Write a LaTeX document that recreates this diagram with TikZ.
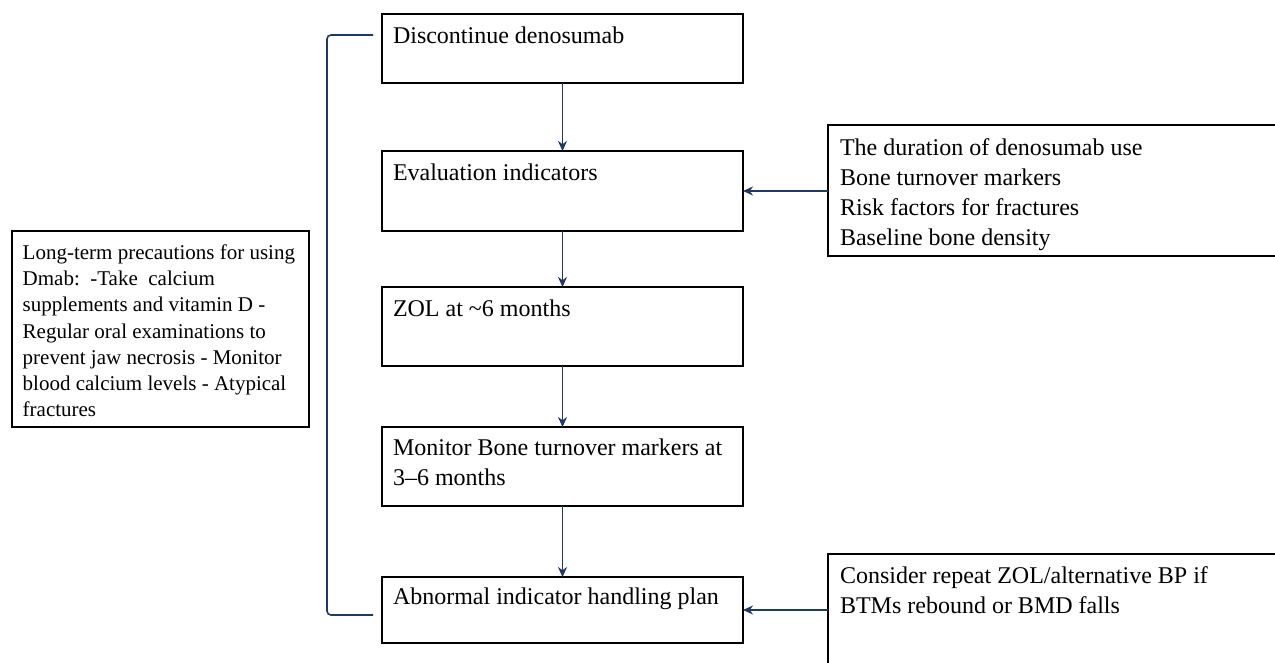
\documentclass[tikz,border=0pt]{standalone}
\usepackage{fontspec}
\setmainfont{Liberation Serif}
\usetikzlibrary{arrows.meta}
\definecolor{navy}{HTML}{1F3864}
\begin{document}
\begin{tikzpicture}[x=1pt,y=-1pt,
  box/.style={draw=black,line width=1.8pt,rectangle,inner sep=0pt,outer sep=0pt},
  txt/.style={anchor=north west,inner sep=0pt,outer sep=0pt,align=left,font=\fontsize{24}{30}\selectfont},
  smalltxt/.style={anchor=north west,inner sep=0pt,outer sep=0pt,align=left,font=\fontsize{21}{26.2}\selectfont},
  arr/.style={draw=navy,line width=1.5pt,-{Stealth[length=10pt,width=9pt]}},
  brk/.style={draw=navy,line width=1.6pt,rounded corners=4pt}]
\useasboundingbox (0,0) rectangle (1275,662);
\clip (0,0) rectangle (1275,662);
\fill[white] (0,0) rectangle (1275,662);
% main column
\node[box,minimum width=361pt,minimum height=69pt] (b1) at (562.5,48.5) {};
\node[box,minimum width=361pt,minimum height=80pt] (b2) at (562.5,191) {};
\node[box,minimum width=361pt,minimum height=79pt] (b3) at (562.5,326.5) {};
\node[box,minimum width=361pt,minimum height=79pt] (b4) at (562.5,466.5) {};
\node[box,minimum width=361pt,minimum height=66pt] (b5) at (562.5,610) {};
% side boxes
\node[box,minimum width=297pt,minimum height=196pt] (lb) at (160.5,329) {};
\node[box,minimum width=462pt,minimum height=131pt] (rb1) at (1059,190.5) {};
\node[box,minimum width=462pt,minimum height=126pt] (rb2) at (1059,617) {};
% texts
\node[txt] (t1) at ([shift={(11,12.6)}]b1.north west) {Discontinue denosumab};
\node[txt] (t2) at ([shift={(11,12.6)}]b2.north west) {Evaluation indicators};
\node[txt] (t3) at ([shift={(11,12.6)}]b3.north west) {ZOL at \textasciitilde6 months};
\node[txt] (t4) at ([shift={(11,11.8)}]b4.north west) {Monitor Bone turnover markers at\\3–6 months};
\node[txt] (t5) at ([shift={(11,11)}]b5.north west) {Abnormal indicator handling plan};
\node[txt] (t6) at ([shift={(12,13.6)}]rb1.north west) {The duration of denosumab use\\Bone turnover markers\\Risk factors for fractures\\Baseline bone density};
\node[txt] (t7) at ([shift={(12,12.6)}]rb2.north west) {Consider repeat ZOL/alternative BP if\\BTMs rebound or BMD falls};
\node[smalltxt] (t8) at ([shift={(10.7,13.7)}]lb.north west) {Long-term precautions for using\\Dmab:\ \ -Take\ \ calcium\\supplements and vitamin D -\\Regular oral examinations to\\prevent jaw necrosis - Monitor\\blood calcium levels - Atypical\\fractures};
% arrows
\draw[arr] (b1.south) -- (b2.north);
\draw[arr] (b2.south) -- (b3.north);
\draw[arr] (b3.south) -- (b4.north);
\draw[arr] (b4.south) -- (b5.north);
\draw[arr] (rb1.west |- b2.east) -- (b2.east);
\draw[arr] (rb2.west |- b5.east) -- (b5.east);
% bracket
\coordinate (brt) at (373,35);
\coordinate (brb) at (373,615);
\draw[brk] (brt) -- (327,35) -- (327,615) -- (brb);
\end{tikzpicture}
\end{document}
